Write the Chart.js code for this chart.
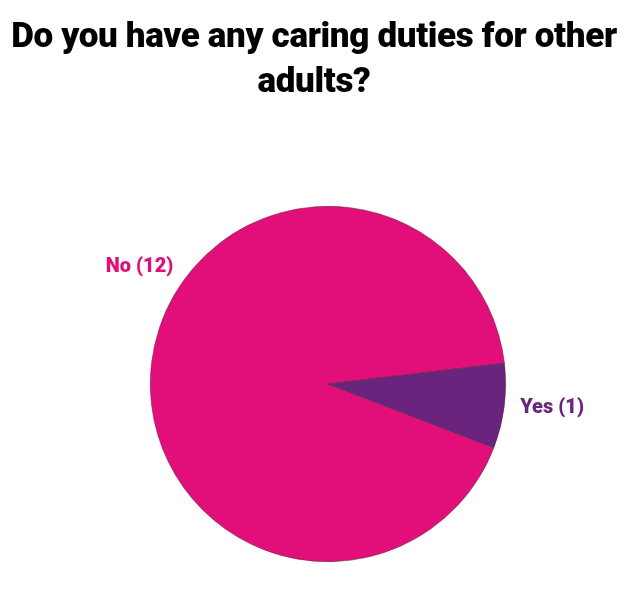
<!DOCTYPE html>
<html lang="en">
<head>
  <meta charset="UTF-8" />
  <title>Caring duties</title>
  <script src="https://cdn.jsdelivr.net/npm/chart.js"></script>
  <style>
    html, body { margin: 0; padding: 0; background: #fff; }
    .wrap { position: relative; width: 640px; height: 600px; }
    .chart-title {
      position: absolute; left: 0; top: 13px; width: 628px;
      margin: 0; text-align: center;
      font: 900 35px/45px Roboto, sans-serif; color: #000;
      letter-spacing: -0.35px;
    }
  </style>
</head>
<body>
  <div class="wrap">
    <h1 class="chart-title">Do you have any caring duties for other<br>adults?</h1>
    <canvas id="pie"></canvas>
  </div>

  <script>
    // chart data
    const categories = ['No', 'Yes'];
    const counts = [12, 1];
    const sliceColors = ['#E20E7A', '#6B247D'];

    // draws "No (12)" style labels outside the slices
    const outsideLabels = {
      id: 'outsideLabels',
      afterDatasetsDraw(chart, args, opts) {
        const ctx = chart.ctx;
        const meta = chart.getDatasetMeta(0);
        ctx.save();
        ctx.font = opts.font;
        ctx.textBaseline = 'middle';
        meta.data.forEach((arc, i) => {
          const p = arc.getProps(['x', 'y', 'startAngle', 'endAngle', 'outerRadius'], true);
          let ang = (p.startAngle + p.endAngle) / 2;
          if (opts.angles && opts.angles[i] != null) ang = opts.angles[i] * Math.PI / 180;
          const r = p.outerRadius + opts.offset;
          const x = p.x + Math.cos(ang) * r;
          const y = p.y + Math.sin(ang) * r;
          ctx.textAlign = Math.cos(ang) >= 0 ? 'left' : 'right';
          ctx.fillStyle = sliceColors[i];
          ctx.fillText(categories[i] + ' (' + counts[i] + ')', x, y);
        });
        ctx.restore();
      }
    };

    const ctx = document.getElementById('pie').getContext('2d');
    new Chart(ctx, {
      type: 'pie',
      data: {
        labels: categories,
        datasets: [{
          data: counts,
          backgroundColor: sliceColors,
          borderColor: 'rgba(70, 40, 60, 0.8)',
          borderWidth: 0.6
        }]
      },
      options: {
        responsive: true,
        maintainAspectRatio: false,
        animation: false,
        rotation: 111,
        layout: { padding: { top: 206, bottom: 38, left: 16, right: 0 } },
        plugins: {
          legend: { display: false },
          tooltip: { enabled: false },
          title: { display: false },
          outsideLabels: {
            font: '900 20px Roboto',
            offset: 16,
            angles: [-143, null]
          }
        }
      },
      plugins: [outsideLabels]
    });
  </script>
</body>
</html>
